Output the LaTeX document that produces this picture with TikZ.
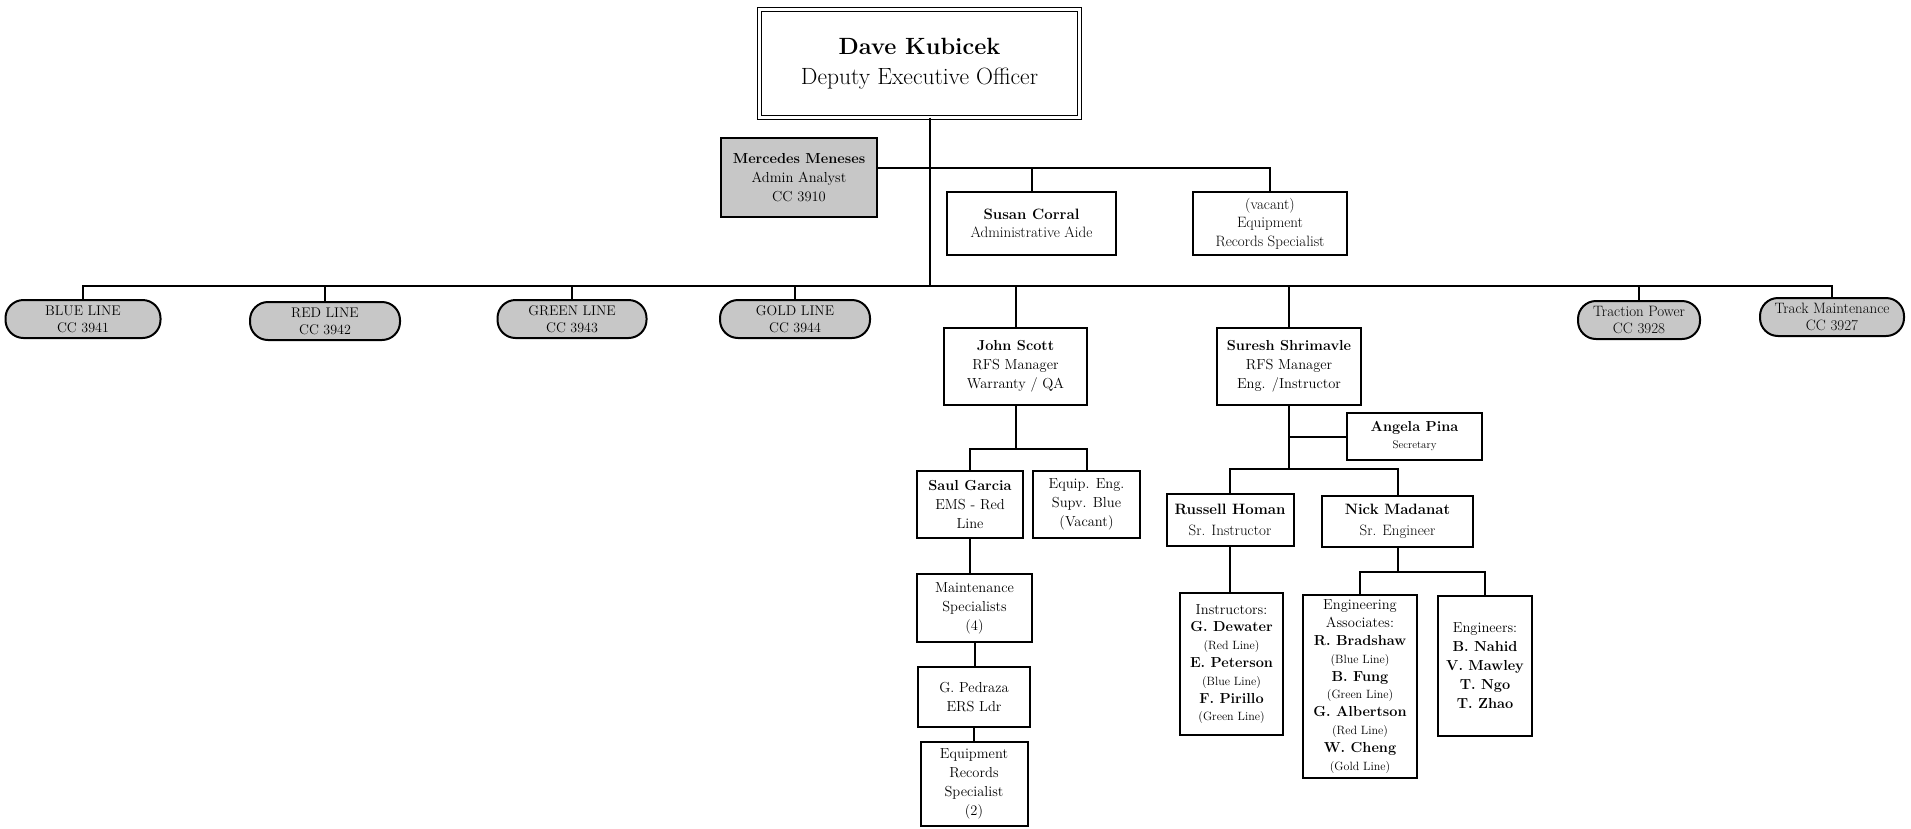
\documentclass[tikz,border=0pt]{standalone}
\usepackage{fontspec}
\newcommand\orgnm[1]{{\bfseries #1}}
\newcommand\orgln[1]{{\fontsize{12}{17.8}\selectfont #1}}
\begin{document}
\begin{tikzpicture}[x=1pt,y=-1pt,
  every node/.style={inner sep=0pt, outer sep=0pt},
  box/.style={draw, line width=2pt, fill=white, align=center, font=\fontsize{14.5}{19}\selectfont},
  gbox/.style={box, fill=black!22},
  listbox/.style={box, font=\fontsize{14.5}{17.8}\selectfont},
  pill/.style={draw, line width=2pt, fill=black!22, rounded corners=18pt, align=center, minimum height=38pt, font=\fontsize{14}{17}\selectfont},
  conn/.style={line width=2pt},
  topbox/.style={draw, double=white, double distance=2.5pt, line width=1.4pt, fill=white, align=center, font=\fontsize{23.5}{30}\selectfont}
]
\useasboundingbox[fill=white] (0,0) rectangle (1911,828);

% top
\node[topbox, minimum width=320pt, minimum height=108pt] (top) at (919.5,63.5) {\textbf{Dave Kubicek}\\Deputy Executive Officer};

% admin staff
\node[gbox, minimum width=156pt, minimum height=79pt] (merc) at (799,177.5) {\textbf{Mercedes Meneses}\\Admin Analyst\\CC 3910};
\node[box, font=\fontsize{15}{18}\selectfont, minimum width=169pt, minimum height=63pt] (susan) at (1031.5,223.5) {\textbf{Susan Corral}\\Administrative Aide};
\node[box, font=\fontsize{15}{18.5}\selectfont, minimum width=154pt, minimum height=63pt] (vacant) at (1270,223.5) {(vacant)\\Equipment\\Records Specialist};

% pills
\node[pill, minimum width=155pt] (blue) at (83,319) {BLUE LINE\\CC 3941};
\node[pill, minimum width=150pt] (red) at (325,321) {RED LINE\\CC 3942};
\node[pill, minimum width=149pt] (green) at (572,319) {GREEN LINE\\CC 3943};
\node[pill, minimum width=150pt] (gold) at (795,319) {GOLD LINE\\CC 3944};
\node[pill, font=\fontsize{15}{17}\selectfont, minimum width=122pt] (traction) at (1639,320) {Traction Power\\CC 3928};
\node[pill, font=\fontsize{15}{17}\selectfont, minimum width=144pt] (track) at (1832,317) {Track Maintenance\\CC 3927};

% managers
\node[box, minimum width=143pt, minimum height=77pt] (john) at (1015.5,366.5) {\textbf{John Scott}\\RFS Manager\\Warranty / QA};
\node[box, minimum width=144pt, minimum height=77pt] (suresh) at (1289,366.5) {\textbf{Suresh Shrimavle}\\RFS Manager\\Eng. /Instructor};

% John branch
\node[box, minimum width=106pt, minimum height=67pt] (saul) at (970,504.5) {\textbf{Saul Garcia}\\EMS - Red\\Line};
\node[box, minimum width=107pt, minimum height=67pt] (equip) at (1086.5,504.5) {Equip. Eng.\\Supv. Blue\\(Vacant)};
\node[box, minimum width=115pt, minimum height=68pt] (maint) at (974.5,608) {Maintenance\\Specialists\\(4)};
\node[box, minimum width=112pt, minimum height=60pt] (pedraza) at (974,697) {G. Pedraza\\ERS Ldr};
\node[box, minimum width=107pt, minimum height=84pt] (eqrec) at (974,784) {Equipment\\Records\\Specialist\\(2)};

% Suresh branch
\node[box, font=\fontsize{14.5}{17}\selectfont, minimum width=135pt, minimum height=47pt] (angela) at (1414.5,436.5) {\textbf{Angela Pina}\\{\fontsize{11}{17}\selectfont Secretary}};
\node[box, font=\fontsize{15}{21}\selectfont, minimum width=127pt, minimum height=52pt] (russell) at (1230,520) {\textbf{Russell Homan}\\Sr. Instructor};
\node[box, font=\fontsize{15}{21}\selectfont, minimum width=151pt, minimum height=51pt] (nick) at (1397.5,521) {\textbf{Nick Madanat}\\Sr. Engineer};
\node[listbox, minimum width=103pt, minimum height=142pt] (instr) at (1231.5,664) {Instructors:\\\orgnm{G. Dewater}\\\orgln{(Red Line)}\\\orgnm{E. Peterson}\\\orgln{(Blue Line)}\\\orgnm{F. Pirillo}\\\orgln{(Green Line)}};
\node[listbox, minimum width=114pt, minimum height=183pt] (engassoc) at (1360,686.5) {Engineering\\Associates:\\\orgnm{R. Bradshaw}\\\orgln{(Blue Line)}\\\orgnm{B. Fung}\\\orgln{(Green Line)}\\\orgnm{G. Albertson}\\\orgln{(Red Line)}\\\orgnm{W. Cheng}\\\orgln{(Gold Line)}};
\node[box, font=\fontsize{14.5}{19}\selectfont, minimum width=94pt, minimum height=140pt] (engineers) at (1485,666) {Engineers:\\\orgnm{B. Nahid}\\\orgnm{V. Mawley}\\\orgnm{T. Ngo}\\\orgnm{T. Zhao}};

% connectors
\coordinate (mx) at (930,0);
\coordinate (mb) at (0,286);
\coordinate (ab) at (0,168);
\coordinate (jb) at (0,449);
\coordinate (sb) at (0,469);
\coordinate (nb) at (0,572);

\draw[conn] (top.south -| mx) -- (mx |- mb);
\draw[conn] (merc.east |- ab) -- (vacant.north |- ab) -- (vacant.north);
\draw[conn] (susan.north |- ab) -- (susan.north);

\draw[conn] (blue.north) -- (blue.north |- mb) -- (track.north |- mb) -- (track.north);
\draw[conn] (red.north) -- (red.north |- mb);
\draw[conn] (green.north) -- (green.north |- mb);
\draw[conn] (gold.north) -- (gold.north |- mb);
\draw[conn] (traction.north) -- (traction.north |- mb);
\draw[conn] (john.north) -- (john.north |- mb);
\draw[conn] (suresh.north) -- (suresh.north |- mb);

\draw[conn] (john.south) -- (john.south |- jb);
\draw[conn] (saul.north) -- (saul.north |- jb) -- (equip.north |- jb) -- (equip.north);
\draw[conn] (saul.south) -- (saul.south |- maint.north);
\draw[conn] (maint.south) -- (maint.south |- pedraza.north);
\draw[conn] (pedraza.south) -- (pedraza.south |- eqrec.north);

\draw[conn] (suresh.south) -- (suresh.south |- sb);
\draw[conn] (angela.west) -- (angela.west -| suresh.south);
\draw[conn] (russell.north) -- (russell.north |- sb) -- (nick.north |- sb) -- (nick.north);
\draw[conn] (russell.south) -- (russell.south |- instr.north);
\draw[conn] (nick.south) -- (nick.south |- nb);
\draw[conn] (engassoc.north) -- (engassoc.north |- nb) -- (engineers.north |- nb) -- (engineers.north);
\end{tikzpicture}
\end{document}
